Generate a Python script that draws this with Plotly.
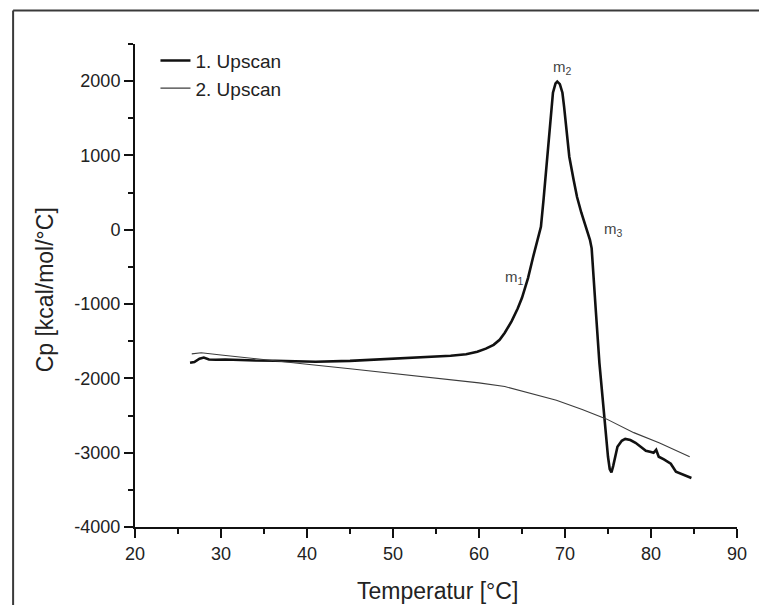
import plotly.graph_objects as go

# ---- data ----
temp_scan1 = [26.4, 26.9, 27.5, 28.0, 28.6, 29.4, 30.5, 32.0, 34.0, 36.3, 38.0, 41.0, 45.0, 49.0,
              53.0, 56.7, 58.5, 59.8, 60.8, 61.7, 62.4, 63.0, 63.8, 64.5, 65.0, 65.7, 66.3, 66.8,
              67.2, 67.5, 67.8, 68.1, 68.3, 68.6, 68.9, 69.1, 69.4, 69.7, 69.9, 70.1, 70.5, 71.0,
              71.4, 71.9, 72.3, 72.6, 72.9, 73.1, 73.2, 73.4, 73.6, 74.0, 74.5, 74.8, 75.0, 75.2,
              75.4, 75.6, 75.8, 76.1, 76.6, 77.0, 77.6, 78.2, 78.8, 79.4, 80.0, 80.3, 80.6, 80.9,
              81.5, 82.3, 82.9, 83.6, 84.4, 84.7]
cp_scan1 = [-1790, -1780, -1735, -1720, -1745, -1750, -1745, -1755, -1760, -1763, -1770, -1776, -1765, -1740,
            -1720, -1696, -1675, -1642, -1600, -1548, -1480, -1386, -1230, -1060, -915, -650, -363, -150,
            40, 400, 767, 1150, 1440, 1844, 1970, 1995, 1960, 1844, 1650, 1440, 983, 673,
            440, 229, 90, 0, -135, -250, -444, -800, -1117, -1790, -2463, -2826, -3055, -3220,
            -3265, -3180, -3055, -2920, -2840, -2815, -2830, -2867, -2920, -2974, -2990, -3001, -2961, -3055,
            -3090, -3149, -3257, -3290, -3324, -3340]

temp_scan2 = [26.6, 27.7, 30.0, 33.0, 36.0, 40.0, 45.0, 50.0, 55.0, 60.0, 63.0, 66.0, 69.0,
              72.0, 74.8, 78.0, 81.0, 84.5]
cp_scan2 = [-1670, -1655, -1685, -1725, -1760, -1810, -1870, -1935, -2005, -2060, -2110, -2200, -2295,
            -2420, -2545, -2730, -2870, -3055]

series_names = ["1. Upscan", "2. Upscan"]

x_ticks = [20, 30, 40, 50, 60, 70, 80, 90]
x_ticktext = ["20", "30", "40", "50", "60", "70", "80", "90"]
y_ticks = [-4000, -3000, -2000, -1000, 0, 1000, 2000]
y_ticktext = ["-4000", "-3000", "-2000", "-1000", "0", "1000", "2000"]

peak_labels = ["m<sub>1</sub>", "m<sub>2</sub>", "m<sub>3</sub>"]
peak_x = [64.1, 69.7, 75.6]
peak_y = [-640, 2180, 0]

x_title = "Temperatur [°C]"
y_title = "Cp [kcal/mol/°C]"

FONT = "Liberation Sans, Arial, Helvetica, sans-serif"

fig = go.Figure()
fig.add_trace(go.Scatter(x=temp_scan1, y=cp_scan1, mode="lines", name=series_names[0],
                         line=dict(color="#111111", width=2.6)))
fig.add_trace(go.Scatter(x=temp_scan2, y=cp_scan2, mode="lines", name=series_names[1],
                         line=dict(color="#3c3c3c", width=1.1)))

for t, px, py in zip(peak_labels, peak_x, peak_y):
    fig.add_annotation(x=px, y=py, text=t, showarrow=False, xanchor="center", yanchor="middle",
                       font=dict(family=FONT, size=15, color="#444444"))

# axis titles
fig.add_annotation(xref="paper", yref="paper", x=0.503, y=0, yshift=-64, text=x_title,
                   showarrow=False, xanchor="center", yanchor="middle",
                   font=dict(family=FONT, size=23, color="#222222"))
fig.add_annotation(xref="paper", yref="paper", x=0, xshift=-90, y=0.49, text=y_title,
                   showarrow=False, textangle=-90, xanchor="center", yanchor="middle",
                   font=dict(family=FONT, size=23, color="#222222"))

# outer frame of the picture (left and top edges; the rest lies outside the crop)
frame_left = (12.5 - 135) / 605
frame_top = (527 - 10.5) / 483
fig.add_shape(type="line", xref="paper", yref="paper",
              x0=frame_left, x1=frame_left, y0=(527 - 620) / 483, y1=frame_top,
              line=dict(color="#3a3a3a", width=2), layer="below")
fig.add_shape(type="line", xref="paper", yref="paper",
              x0=frame_left, x1=(770 - 135) / 605, y0=frame_top, y1=frame_top,
              line=dict(color="#3a3a3a", width=2), layer="below")

axis_common = dict(showgrid=False, zeroline=False, showline=True, linecolor="#111111", linewidth=2,
                   ticks="outside", ticklen=9, tickwidth=2, tickcolor="#111111",
                   tickfont=dict(family=FONT, size=18, color="#222222"), mirror=False)

fig.update_xaxes(range=[20, 90], tickmode="array", tickvals=x_ticks, ticktext=x_ticktext,
                 minor=dict(dtick=5, ticks="outside", ticklen=5, tickwidth=2, tickcolor="#111111"),
                 **axis_common)
fig.update_yaxes(range=[-4000, 2500], tickmode="array", tickvals=y_ticks, ticktext=y_ticktext,
                 minor=dict(dtick=500, ticks="outside", ticklen=5, tickwidth=2, tickcolor="#111111"),
                 **axis_common)

fig.update_layout(
    width=759, height=605,
    margin=dict(l=135, r=18, t=44, b=78),
    paper_bgcolor="white", plot_bgcolor="white",
    showlegend=True,
    legend=dict(x=0.034, y=1.005, xanchor="left", yanchor="top", bgcolor="rgba(0,0,0,0)",
                font=dict(family=FONT, size=19, color="#222222"), tracegroupgap=0),
)

fig.write_html("out.html")
